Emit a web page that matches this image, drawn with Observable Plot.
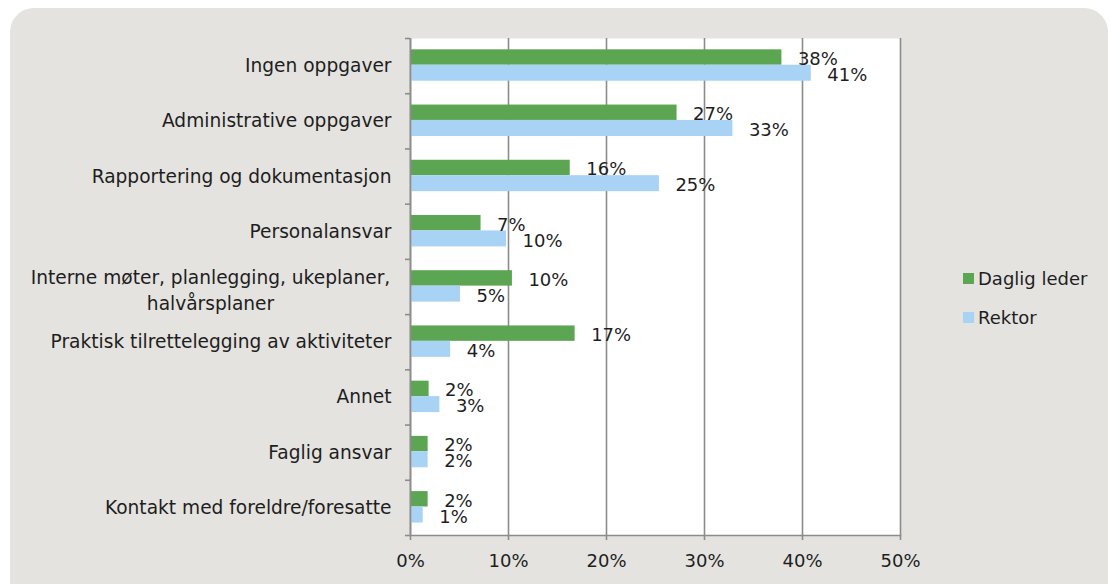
<!DOCTYPE html>
<html>
<head>
<meta charset="utf-8">
<script src="https://cdn.jsdelivr.net/npm/d3@7"></script>
<script src="https://cdn.jsdelivr.net/npm/@observablehq/plot@0.6"></script>
<style>
  html, body { margin: 0; padding: 0; background: #ffffff; }
  #wrap { position: relative; width: 1110px; height: 584px; overflow: hidden; font-family: "DejaVu Sans", sans-serif; color: #1e1e1e; }
  #panel { position: absolute; left: 10px; top: 8px; width: 1098px; height: 600px; border-radius: 24px; background: #e4e3df; }
  #chart { position: absolute; left: 0; top: 0; }
  .leg { position: absolute; left: 963px; font-size: 18px; line-height: 18px; white-space: nowrap; }
  .leg span.sw { position: absolute; left: 0; top: 3px; width: 11px; height: 11px; }
  .leg span.tx { position: absolute; left: 15px; top: 0; }
</style>
</head>
<body>
<div id="wrap">
  <div id="panel"></div>
  <div id="chart"></div>
  <div id="legend"></div>
</div>
<script>
const categories = [
  "Ingen oppgaver",
  "Administrative oppgaver",
  "Rapportering og dokumentasjon",
  "Personalansvar",
  "Interne møter, planlegging, ukeplaner,\nhalvårsplaner",
  "Praktisk tilrettelegging av aktiviteter",
  "Annet",
  "Faglig ansvar",
  "Kontakt med foreldre/foresatte"
];
// the one label that Excel wraps onto two centred lines
const wrappedCategory = categories[4];
const seriesNames = ["Daglig leder", "Rektor"];
const seriesColors = ["#5ca553", "#a9d3f4"];
const dagligLeder = [0.379, 0.272, 0.163, 0.072, 0.104, 0.168, 0.019, 0.018, 0.018];
const rektor      = [0.409, 0.329, 0.254, 0.098, 0.051, 0.041, 0.030, 0.018, 0.013];
const dagligLabels = ["38%", "27%", "16%", "7%", "10%", "17%", "2%", "2%", "2%"];
const rektorLabels = ["41%", "33%", "25%", "10%", "5%", "4%", "3%", "2%", "1%"];
const xTicks = [0, 0.1, 0.2, 0.3, 0.4, 0.5];
const xTickLabels = ["0%", "10%", "20%", "30%", "40%", "50%"];

const rows = categories.map((c, i) => ({
  cat: c, daglig: dagligLeder[i], rektor: rektor[i],
  dl: dagligLabels[i], rl: rektorLabels[i]
}));

const W = 1110, H = 584, mT = 38, mB = 49, mL = 410, mR = 210;
const step = (H - mT - mB) / categories.length;
const gridColor = "#8c8c8c";
const catFont = 18.6;

const chart = Plot.plot({
  width: W, height: H,
  marginLeft: mL, marginRight: mR, marginTop: mT, marginBottom: mB,
  style: { background: "transparent", fontFamily: "DejaVu Sans, sans-serif", fontSize: "18px", color: "#1e1e1e" },
  x: { domain: [0, 0.5], label: null },
  y: { domain: categories, padding: 0, round: false, label: null },
  marks: [
    Plot.frame({ fill: "white", stroke: null }),
    Plot.gridX({ ticks: xTicks, stroke: gridColor, strokeOpacity: 1, strokeWidth: 1.6 }),
    Plot.barX(rows, { x: "daglig", y: "cat", fill: seriesColors[0], insetTop: step * 0.205, insetBottom: step * 0.516 }),
    Plot.barX(rows, { x: "rektor", y: "cat", fill: seriesColors[1], insetTop: step * 0.484, insetBottom: step * 0.226 }),
    Plot.text(rows, { x: "daglig", y: "cat", text: "dl", dx: 16, dy: -7, textAnchor: "start", fontSize: 18, fill: "#1e1e1e" }),
    Plot.text(rows, { x: "rektor", y: "cat", text: "rl", dx: 16, dy: 9, textAnchor: "start", fontSize: 18, fill: "#1e1e1e" }),
    Plot.ruleX([0], { stroke: gridColor, strokeWidth: 1.6 }),
    Plot.frame({ anchor: "bottom", stroke: gridColor, strokeWidth: 1.6 }),
    Plot.axisX(xTicks, { tickSize: 5, tickPadding: 14, stroke: gridColor, strokeWidth: 1.6, tickFormat: (d, i) => xTickLabels[i], label: null, fontSize: 18 }),
    Plot.axisY({ tickSize: 0, tickPadding: 19, label: null, fontSize: catFont, tickFormat: (d) => d === wrappedCategory ? "" : d }),
    Plot.text([wrappedCategory], { y: (d) => d, text: (d) => d, frameAnchor: "left", textAnchor: "middle", dx: -200, dy: 2, lineHeight: 1.35, fontSize: catFont, fill: "#1e1e1e" }),
    Plot.axisY({ text: null, tickSize: 5, dy: -step / 2, stroke: gridColor, strokeWidth: 1.6, label: null }),
    Plot.axisY([categories[categories.length - 1]], { text: null, tickSize: 5, dy: step / 2, stroke: gridColor, strokeWidth: 1.6, label: null })
  ]
});
document.getElementById("chart").appendChild(chart);

const legend = document.getElementById("legend");
const legendTops = [270, 309];
seriesNames.forEach((name, i) => {
  const item = document.createElement("div");
  item.className = "leg";
  item.style.top = legendTops[i] + "px";
  item.innerHTML = `<span class="sw" style="background:${seriesColors[i]}"></span><span class="tx">${name}</span>`;
  legend.appendChild(item);
});
</script>
</body>
</html>
